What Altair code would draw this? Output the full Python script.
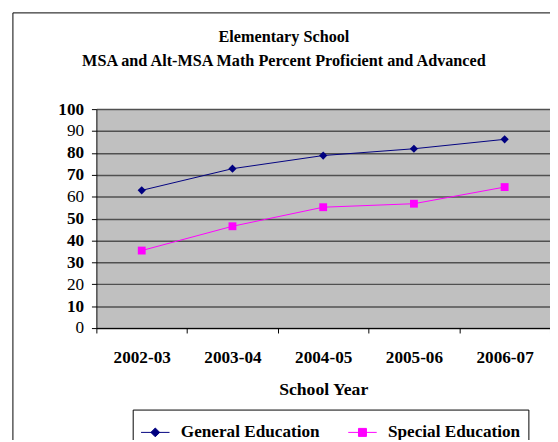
import altair as alt
import pandas as pd

years = ["2002-03", "2003-04", "2004-05", "2005-06", "2006-07"]
general = [62.9, 72.8, 78.8, 81.9, 86.2]
special = [35.4, 46.5, 55.2, 56.8, 64.4]
series_names = ["General Education", "Special Education"]
series_colors = ["#000080", "#FF00FF"]
series_shapes = ["diamond", "square"]
legend_shapes = [
    "M-1,0H1M0,-0.31L0.31,0L0,0.31L-0.31,0Z",
    "M-1,0H1M-0.28,-0.28H0.28V0.28H-0.28Z",
]
y_ticks = [0, 10, 20, 30, 40, 50, 60, 70, 80, 90, 100]
normal_ticks = [90, 60, 20, 0]

rows = []
for yr, g, s in zip(years, general, special):
    rows.append({"year": yr, "series": series_names[0], "value": g})
    rows.append({"year": yr, "series": series_names[1], "value": s})
df = pd.DataFrame(rows)

FONT = "Liberation Serif"

x_enc = alt.X(
    "year:N",
    sort=years,
    scale=alt.Scale(paddingInner=0, paddingOuter=0),
    axis=alt.Axis(
        title="School Year",
        labelAngle=0,
        tickBand="extent",
        tickSize=5,
        tickColor="black",
        domainColor="black",
        labelFont=FONT,
        labelFontSize=17.5,
        labelFontWeight="bold",
        labelColor="black",
        labelPadding=16,
        titleFont=FONT,
        titleFontSize=18,
        titleFontWeight="bold",
        titleColor="black",
        titlePadding=15,
        grid=False,
    ),
)
normal_test = " || ".join("datum.value == %d" % v for v in normal_ticks)
y_enc = alt.Y(
    "value:Q",
    scale=alt.Scale(domain=[0, 100], nice=False),
    axis=alt.Axis(
        title=None,
        values=y_ticks,
        tickSize=5,
        tickColor="black",
        domainColor="black",
        labelFont=FONT,
        labelFontSize=17.5,
        labelFontWeight={
            "condition": {"test": normal_test, "value": "normal"},
            "value": "bold",
        },
        labelColor="black",
        labelPadding=8,
        grid=True,
        gridColor="#505050",
        gridWidth=1.5,
    ),
)
color_scale = alt.Scale(domain=series_names, range=series_colors)

leg = alt.Legend(
    title=None,
    orient="none",
    legendX=37,
    legendY=306,
    direction="horizontal",
    gridAlign="all",
    strokeColor="black",
    fillColor="white",
    padding=8,
    symbolSize=841,
    symbolStrokeWidth=1,
    symbolOpacity=1,
    labelOffset=11,
    columnPadding=26,
    labelFont=FONT,
    labelFontSize=17.5,
    labelFontWeight="bold",
    labelColor="black",
)
color_enc = alt.Color("series:N", scale=color_scale, legend=leg)

frame = alt.Chart(pd.DataFrame({"k": [0]})).mark_rect(
    fill="transparent", stroke="black", strokeWidth=1
).encode(
    x=alt.value(-85), x2=alt.value(480), y=alt.value(-98), y2=alt.value(360)
)

lines = alt.Chart(df).mark_line(strokeWidth=1).encode(x=x_enc, y=y_enc, color=color_enc)

pts_general = alt.Chart(df).transform_filter(
    alt.datum.series == series_names[0]
).mark_point(filled=True, size=70, opacity=1, shape=series_shapes[0]).encode(
    x=x_enc, y=y_enc, color=color_enc
)
pts_special = alt.Chart(df).transform_filter(
    alt.datum.series == series_names[1]
).mark_point(filled=True, size=64, opacity=1, shape=series_shapes[1]).encode(
    x=x_enc, y=y_enc, color=color_enc
)

legend_layer = alt.Chart(df).transform_filter("false").mark_point(
    filled=True, opacity=1, strokeWidth=1
).encode(
    x=x_enc,
    y=y_enc,
    color=color_enc,
    stroke=alt.Stroke("series:N", scale=alt.Scale(domain=series_names, range=series_colors), legend=leg),
    shape=alt.Shape("series:N", scale=alt.Scale(domain=series_names, range=legend_shapes), legend=leg),
)

chart = alt.layer(frame, lines, pts_general, pts_special, legend_layer).properties(
    width=462,
    height=223,
    autosize=alt.AutoSizeParams(type="none"),
    padding={"left": 90, "top": 99, "right": 0, "bottom": 110},
    background="white",
    title=alt.TitleParams(
        text=["Elementary School", "MSA and Alt-MSA Math Percent Proficient and Advanced"],
        font=FONT,
        fontSize=16.5,
        fontWeight="bold",
        color="black",
        anchor="middle",
        frame="group",
        dx=-40,
        offset=-58,
        lineHeight=24,
    ),
).configure_view(fill="#C0C0C0", stroke="transparent")

chart.save("out.html", embed_options={"renderer": "svg", "actions": False})
